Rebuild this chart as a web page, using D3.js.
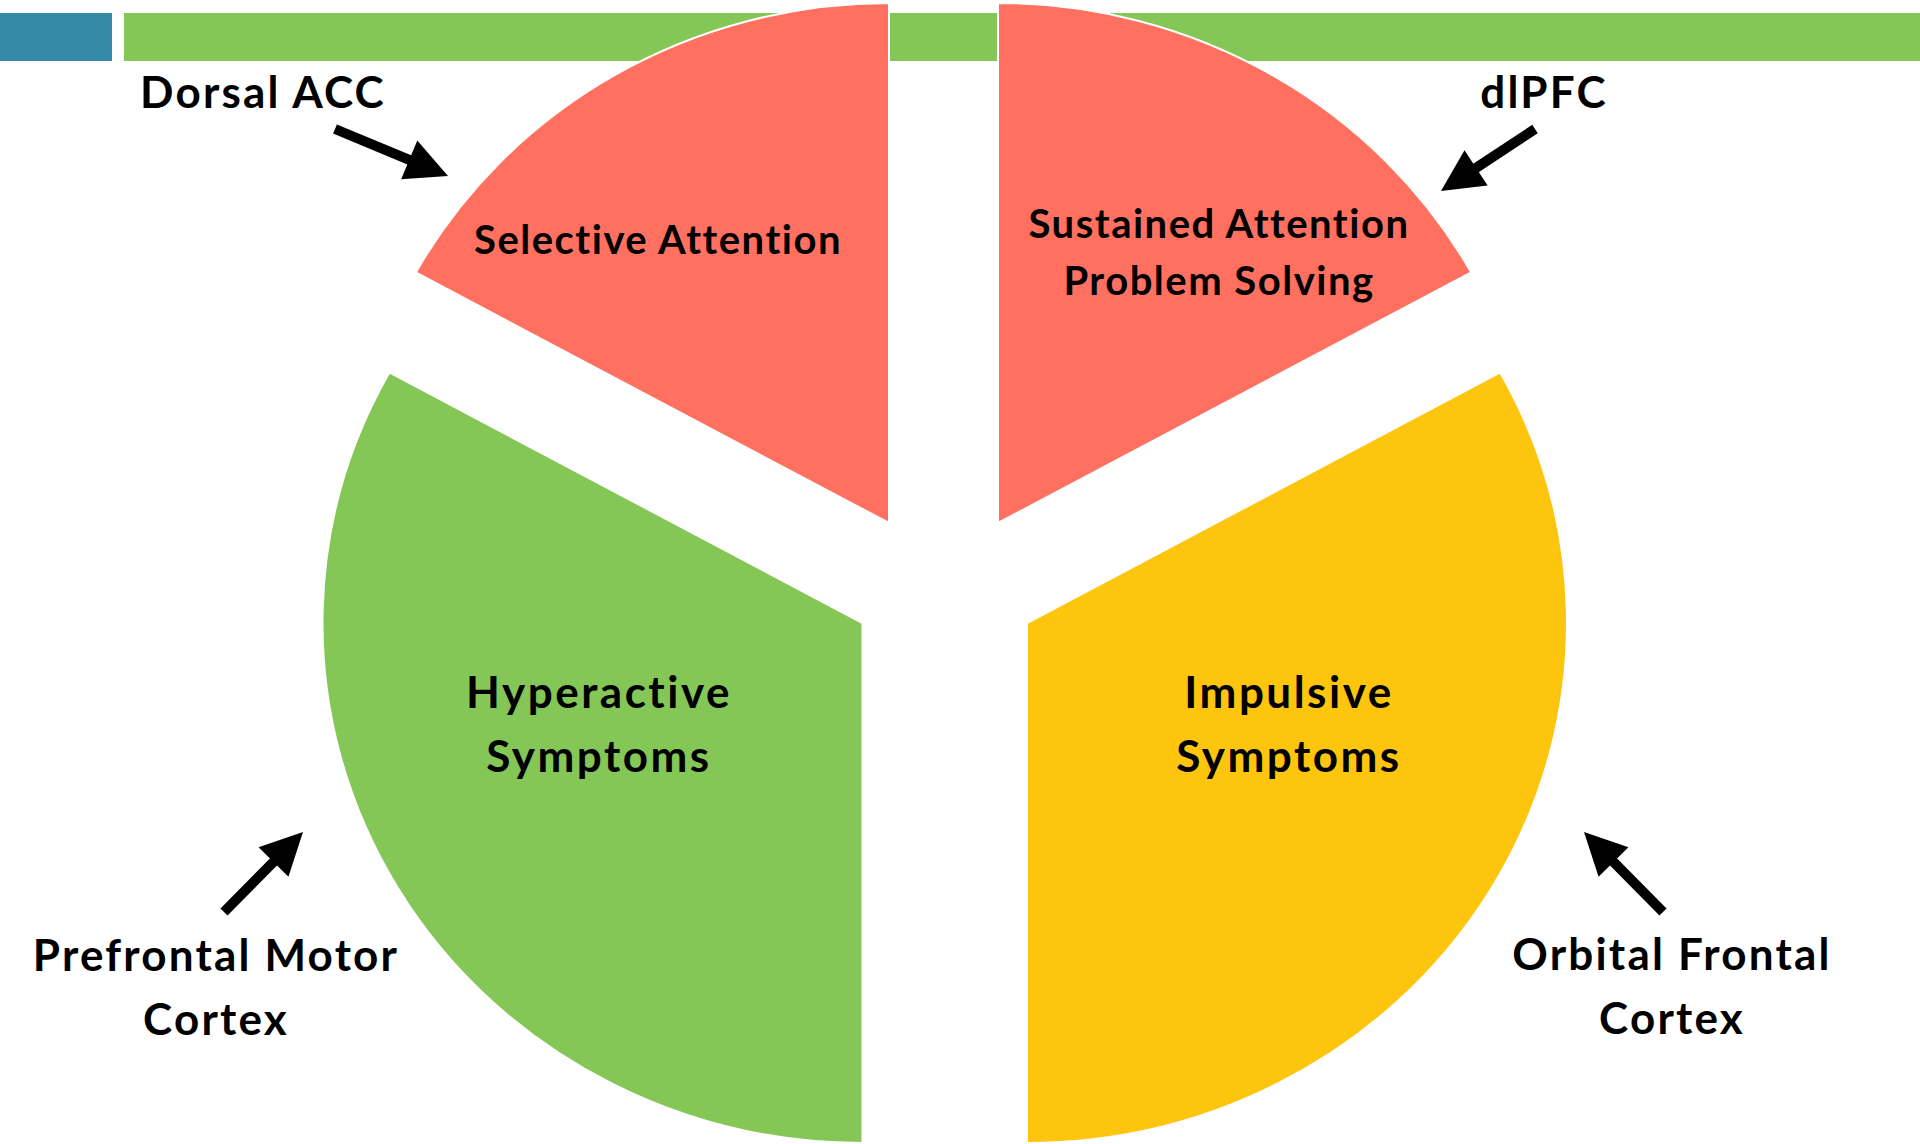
<!DOCTYPE html>
<html>
<head>
<meta charset="utf-8">
<script src="https://cdn.jsdelivr.net/npm/d3@7"></script>
<style>
  html, body { margin: 0; padding: 0; background: #ffffff; }
  svg { display: block; }
  text { font-family: Lato, "Open Sans", sans-serif; font-weight: 700; fill: #000; }
</style>
</head>
<body>
<svg id="chart" width="1920" height="1144"></svg>
<script>
// Functional regions of attention, clockwise from 12 o'clock
const regions = ["Sustained Attention\nProblem Solving", "Impulsive\nSymptoms", "Hyperactive\nSymptoms", "Selective Attention"];
const shares  = [17, 33, 33, 17];
const colors  = ["#ff7061", "#fec50e", "#84c757", "#ff7061"];

// Brain areas pointing at each region
const areas = ["dlPFC", "Orbital Frontal\nCortex", "Prefrontal Motor\nCortex", "Dorsal ACC"];

// ---- layout ----
const W = 1920, H = 1144;
const R = 520;             // vertical radius
const stretch = 540 / 520; // horizontal stretch of the pie
// where each slice's tip sits after pulling the pie apart
const sliceTips = [[998, 523], [1027, 623], [862.5, 623], [889, 523]];
// slice label anchor (center x, first baseline, line gap, font size, letter spacing)
const sliceLabelPos = [
  [1219, 238, 57, 40, 1.5],
  [1289, 708, 64, 44, 2.5],
  [599, 708, 64, 44, 2.5],
  [658, 254, 57, 40, 1.5]
];
// outer area label anchor (center x, first baseline)
const areaLabelPos = [[1544, 108], [1672, 970], [216, 971], [263, 108]];
// arrows: tail -> tip
const arrows = [
  [[1535, 129], [1441, 191]],
  [[1663, 912], [1584, 832]],
  [[224, 912], [303, 832]],
  [[335, 129], [448, 176]]
];

const svg = d3.select("#chart");

// header strip
svg.append("rect").attr("x", 0).attr("y", 13).attr("width", 112).attr("height", 48).attr("fill", "#368aa9");
svg.append("rect").attr("x", 124).attr("y", 13).attr("width", W - 124).attr("height", 48).attr("fill", "#84c757");

// pie
const pie = d3.pie().sort(null).value(d => d).startAngle(0).endAngle(2 * Math.PI);
const arc = d3.arc().innerRadius(0).outerRadius(R);
const arcs = pie(shares);

const slices = svg.append("g").selectAll("g")
  .data(arcs)
  .join("g")
  .attr("transform", (d, i) => `translate(${sliceTips[i][0]},${sliceTips[i][1]})`);

slices.append("path")
  .attr("d", arc)
  .attr("transform", `scale(${stretch},1)`)
  .attr("fill", (d, i) => colors[i])
  .attr("stroke", "#ffffff")
  .attr("stroke-width", 2)
  .attr("vector-effect", "non-scaling-stroke");

// slice labels
regions.forEach((label, i) => {
  const [x, y, gap, size, ls] = sliceLabelPos[i];
  const t = svg.append("text")
    .attr("text-anchor", "middle")
    .attr("font-size", size)
    .attr("letter-spacing", ls);
  label.split("\n").forEach((line, j) => {
    t.append("tspan").attr("x", x).attr("y", y + j * gap).text(line);
  });
});

// area labels
areas.forEach((label, i) => {
  const [x, y] = areaLabelPos[i];
  const t = svg.append("text")
    .attr("text-anchor", "middle")
    .attr("font-size", 44)
    .attr("letter-spacing", 2.2);
  label.split("\n").forEach((line, j) => {
    t.append("tspan").attr("x", x).attr("y", y + j * 64).text(line);
  });
});

// arrows
const headLen = 42, headHalf = 21, shaft = 10;
arrows.forEach(([a, b]) => {
  const dx = b[0] - a[0], dy = b[1] - a[1];
  const len = Math.hypot(dx, dy);
  const ux = dx / len, uy = dy / len;
  const px = -uy, py = ux;
  const bx = b[0] - ux * headLen, by = b[1] - uy * headLen;
  svg.append("line")
    .attr("x1", a[0]).attr("y1", a[1])
    .attr("x2", bx + ux * 2).attr("y2", by + uy * 2)
    .attr("stroke", "#000").attr("stroke-width", shaft);
  svg.append("path")
    .attr("d", d3.line()([
      b,
      [bx + px * headHalf, by + py * headHalf],
      [bx - px * headHalf, by - py * headHalf]
    ]) + "Z")
    .attr("fill", "#000");
});
</script>
</body>
</html>
